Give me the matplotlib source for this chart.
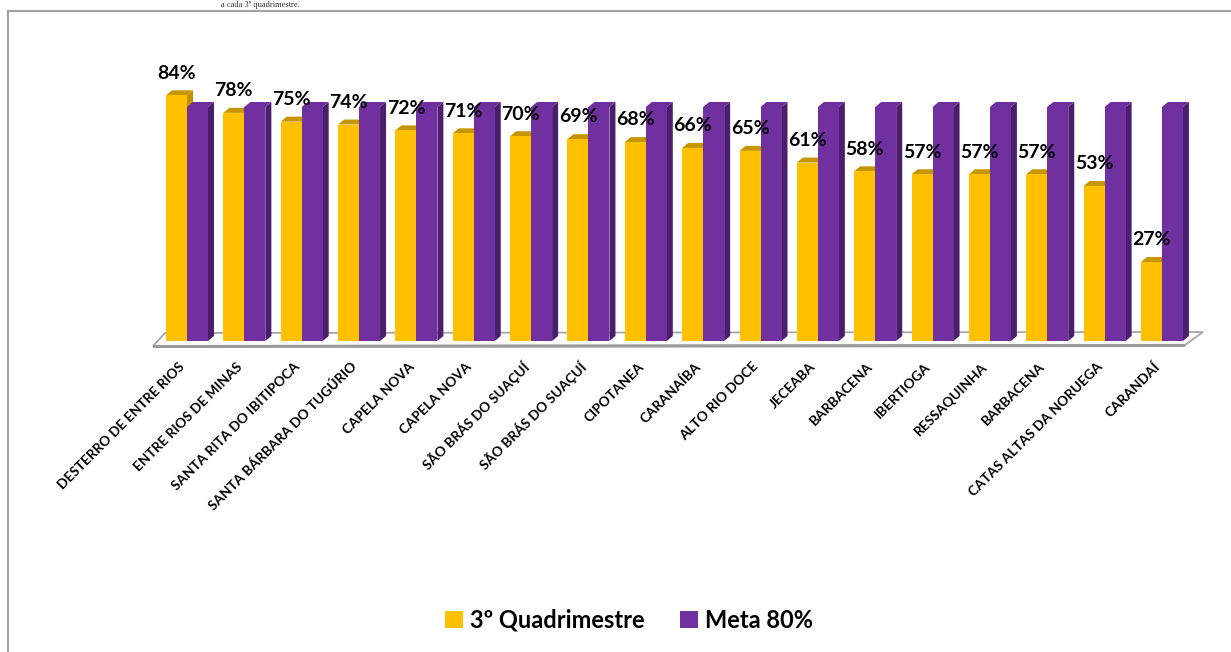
import matplotlib.pyplot as plt
from matplotlib.patches import Polygon, Patch, Rectangle
import numpy as np

# dados
municipios = ['DESTERRO DE ENTRE RIOS', 'ENTRE RIOS DE MINAS', 'SANTA RITA DO IBITIPOCA',
              'SANTA BÁRBARA DO TUGÚRIO', 'CAPELA NOVA', 'CAPELA NOVA', 'SÃO BRÁS DO SUAÇUÍ',
              'SÃO BRÁS DO SUAÇUÍ', 'CIPOTANEA', 'CARANAÍBA', 'ALTO RIO DOCE', 'JECEABA',
              'BARBACENA', 'IBERTIOGA', 'RESSAQUINHA', 'BARBACENA', 'CATAS ALTAS DA NORUEGA',
              'CARANDAÍ']
quadrimestre = [84, 78, 75, 74, 72, 71, 70, 69, 68, 66, 65, 61, 58, 57, 57, 57, 53, 27]
meta = [80, 80, 80, 80, 80, 80, 80, 80, 80, 80, 80, 80, 80, 80, 80, 80, 80, 80]
series = ['3º Quadrimestre', 'Meta 80%']

amarelo, amarelo_topo, amarelo_lado = '#FFC000', '#C79500', '#BF9000'
roxo, roxo_topo, roxo_lado = '#7030A0', '#6E2F9E', '#4A1E6B'

W, H = 1231, 652
fig = plt.figure(figsize=(W / 100, H / 100), dpi=100)

# eixo: centro da categoria i em x_px = 187 + 57.35*i ; base em y_px = 341 ; 2.925 px por %
px_x, px_y = 57.35, 2.925
left_px, right_px, top_px, base_px = 140, 1215, 60, 341
ax = fig.add_axes([left_px / W, 1 - base_px / H, (right_px - left_px) / W, (base_px - top_px) / H])
ax.set_xlim((left_px - 187) / px_x, (right_px - 187) / px_x)
ax.set_ylim(0, (base_px - top_px) / px_y)
for s in ax.spines.values():
    s.set_visible(False)
ax.set_yticks([])

x = np.arange(len(municipios))
w = 21 / px_x
dx, dy = 6 / px_x, 5 / px_y


def faces(x0, h, topo, lado, z):
    x1 = x0 + w
    ax.add_patch(Polygon([(x1, 0), (x1 + dx, dy), (x1 + dx, h + dy), (x1, h)],
                         fc=lado, ec='none', zorder=z, clip_on=False))
    ax.add_patch(Polygon([(x0, h), (x1, h), (x1 + dx, h + dy), (x0 + dx, h + dy)],
                         fc=topo, ec='none', zorder=z, clip_on=False))


# piso
def fx(p):
    return (p - 187) / px_x


def fy(p):
    return (base_px - p) / px_y


piso = [(fx(153), fy(346)), (fx(165), fy(333)), (fx(1203), fy(332)), (fx(1185), fy(345))]
ax.add_patch(Polygon(piso, fc='white', ec='#A6A6A6', lw=1.3, zorder=1, clip_on=False))
ax.plot([fx(153), fx(1185)], [fy(346.5), fy(345.5)], color='#9A9A9A', lw=2.2,
        zorder=1, clip_on=False, solid_capstyle='butt')

for xi, v in zip(x, quadrimestre):
    faces(xi - w, v, amarelo_topo, amarelo_lado, 2)
for xi, v in zip(x, meta):
    faces(xi, v, roxo_topo, roxo_lado, 4)

ax.bar(x - w, quadrimestre, w, align='edge', color=amarelo, zorder=3)
ax.bar(x, meta, w, align='edge', color=roxo, zorder=5)

for xi, v in zip(x, quadrimestre):
    ax.annotate(f'{v}%', (xi - w / 2, v), xytext=(0, 16), textcoords='offset points',
                ha='center', va='center', fontsize=14, fontweight='bold',
                family='Lato', color='black', zorder=6)

ax.set_xticks(x - 0.07)
ax.set_xticklabels(municipios, rotation=45, ha='right', va='center', rotation_mode='anchor',
                   fontsize=9.8, fontweight='bold', family='Lato')
ax.tick_params(axis='x', length=0, pad=17)

fig.legend(handles=[Patch(fc=amarelo), Patch(fc=roxo)], labels=series, loc='center',
           bbox_to_anchor=(0.511, 0.049), ncol=2, frameon=False,
           prop=dict(family='Lato', weight='bold', size=17),
           handlelength=0.75, handleheight=0.75, handletextpad=0.3, columnspacing=1.5)

# moldura e texto no topo
fig.add_artist(Rectangle((8 / W, -0.1), 1.2, (H - 11) / H + 0.1, transform=fig.transFigure,
                         fill=False, ec='#A0A0A0', lw=1.5))
fig.text(300 / W, 1 - 1 / H, 'a cada 3º quadrimestre.', family='Liberation Serif',
         fontsize=6, ha='right', va='top', color='#333333')

fig.savefig('out.png', dpi=100)
